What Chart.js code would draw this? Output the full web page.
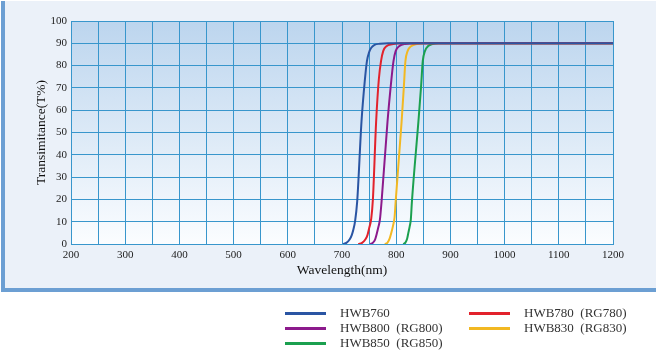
<!DOCTYPE html>
<html>
<head>
<meta charset="utf-8">
<script src="https://cdn.jsdelivr.net/npm/chart.js@4/dist/chart.umd.min.js"></script>
<style>
  html, body { margin: 0; padding: 0; background: #ffffff; width: 660px; height: 353px; overflow: hidden; }
  #panel { position: absolute; left: 1px; top: 1px; width: 651px; height: 287px; background: #ebf1f9;
           border-left: 4px solid #6c9fd3; border-bottom: 4px solid #6c9fd3; }
  #wrap { position: absolute; left: 0; top: 0; width: 660px; height: 293px; }
  #legend { position: absolute; left: 0; top: 0; width: 660px; height: 353px; pointer-events: none;
            font-family: "Liberation Serif", "Times New Roman", serif; font-size: 13px; color: #333; }
  .item { position: absolute; height: 14px; line-height: 14px; white-space: nowrap; }
  .swatch { position: absolute; left: 0; top: 6px; width: 41px; height: 3px; }
  .lbl { position: absolute; left: 55px; top: 0; white-space: pre; }
</style>
</head>
<body>
<div id="panel"></div>
<div id="wrap"><canvas id="c" width="660" height="293"></canvas></div>
<div id="legend"></div>
<script>
// ---- data ----
const seriesLabels = ["HWB760", "HWB780  (RG780)", "HWB800  (RG800)", "HWB830  (RG830)", "HWB850  (RG850)"];
const seriesColors = ["#2a55a3", "#e2222c", "#8c1a8c", "#f2b822", "#1ba04f"];

const hwb760Nm = [702, 708, 714, 718, 721, 724, 728, 736, 742, 746, 750, 754, 760, 770, 785, 1200];
const hwb760T  = [0, 0.5, 2, 4, 6.5, 10, 19, 55, 73, 82, 86, 88, 89.3, 89.8, 90, 90];

const hwb780Nm = [730, 737, 743, 747, 750, 754, 757, 763, 768, 772, 776, 782, 792, 812, 1200];
const hwb780T  = [0, 0.5, 2, 4, 7, 11.5, 20, 55, 74, 82, 86.5, 88.7, 89.6, 90, 90];

const hwb800Nm = [752, 757, 761, 764, 767, 770, 773, 784, 790, 795, 799, 806, 816, 838, 1200];
const hwb800T  = [0, 0.6, 2, 4.5, 7.5, 11, 19, 55, 71, 82, 86.5, 88.8, 89.7, 90, 90];

const hwb830Nm = [779, 784, 788, 791, 794, 797, 799, 810, 814, 817, 821, 828, 838, 855, 1200];
const hwb830T  = [0, 0.6, 2.5, 5, 8, 12, 19, 55, 70, 82, 86.5, 88.8, 89.7, 90, 90];

const hwb850Nm = [813, 817, 820, 822, 825, 827, 829, 841, 846, 849, 853, 859, 867, 878, 1200];
const hwb850T  = [0, 0.6, 2.2, 4.5, 8, 11, 19, 55, 71, 82, 86.5, 88.8, 89.7, 90, 90];

const xMin = 200, xMax = 1200, xStep = 50, xLabelStep = 100;
const yMin = 0, yMax = 100, yStep = 10;
const xTitle = "Wavelength(nm)";
const yTitle = "Transimitance(T%)";

// ---- build ----
const seriesNm = [hwb760Nm, hwb780Nm, hwb800Nm, hwb830Nm, hwb850Nm];
const seriesT  = [hwb760T, hwb780T, hwb800T, hwb830T, hwb850T];

const datasets = seriesLabels.map((lab, i) => ({
  label: lab,
  data: seriesNm[i].map((x, j) => ({ x: x, y: seriesT[i][j] })),
  borderColor: seriesColors[i],
  backgroundColor: seriesColors[i],
  borderWidth: 2,
  pointRadius: 0,
  fill: false,
  cubicInterpolationMode: 'monotone'
}));

const gridColor = '#3896cc';
const serif = '"Liberation Serif", "Times New Roman", serif';

const bgPlugin = {
  id: 'plotBg',
  beforeDraw(chart) {
    const { ctx, chartArea: a } = chart;
    const g = ctx.createLinearGradient(0, a.top, 0, a.bottom);
    g.addColorStop(0, '#bcd5ee');
    g.addColorStop(1, '#fbfdff');
    ctx.save();
    ctx.fillStyle = g;
    ctx.fillRect(a.left, a.top, a.right - a.left, a.bottom - a.top);
    ctx.restore();
  }
};

new Chart(document.getElementById('c'), {
  type: 'line',
  data: { datasets: datasets },
  plugins: [bgPlugin],
  options: {
    responsive: false,
    animation: false,
    layout: { padding: { left: 0, top: 21, right: 47, bottom: 0 } },
    plugins: { legend: { display: false }, tooltip: { enabled: false } },
    scales: {
      x: {
        type: 'linear', min: xMin, max: xMax,
        afterFit(s) { s.height = 49; },
        ticks: {
          stepSize: xStep, autoSkip: false, maxRotation: 0,
          callback: v => (v % xLabelStep === 0 ? String(v) : ''),
          font: { family: serif, size: 11 }, color: '#222', padding: 5
        },
        grid: { color: gridColor, lineWidth: 1, drawTicks: false },
        border: { display: true, color: gridColor, width: 1 },
        title: { display: true, text: xTitle, color: '#111',
                 font: { family: serif, size: 13.5 }, padding: { top: 0, bottom: 14 } }
      },
      y: {
        type: 'linear', min: yMin, max: yMax,
        afterFit(s) { s.width = 71; },
        ticks: { stepSize: yStep, font: { family: serif, size: 11 }, color: '#222', padding: 4 },
        grid: { color: gridColor, lineWidth: 1, drawTicks: false },
        border: { display: true, color: gridColor, width: 1 },
        title: { display: true, text: yTitle, color: '#111',
                 font: { family: serif, size: 13.5 }, padding: { top: 33, bottom: 0 } }
      }
    }
  }
});

// ---- HTML legend built from the series arrays ----
const legendPos = [
  { left: 285, top: 306 }, { left: 469, top: 306 },
  { left: 285, top: 321 }, { left: 469, top: 321 },
  { left: 285, top: 336 }
];
const leg = document.getElementById('legend');
seriesLabels.forEach((lab, i) => {
  const it = document.createElement('div');
  it.className = 'item';
  it.style.left = legendPos[i].left + 'px';
  it.style.top = legendPos[i].top + 'px';
  const sw = document.createElement('div');
  sw.className = 'swatch';
  sw.style.background = seriesColors[i];
  const tx = document.createElement('div');
  tx.className = 'lbl';
  tx.textContent = lab;
  it.appendChild(sw); it.appendChild(tx);
  leg.appendChild(it);
});
</script>
</body>
</html>
